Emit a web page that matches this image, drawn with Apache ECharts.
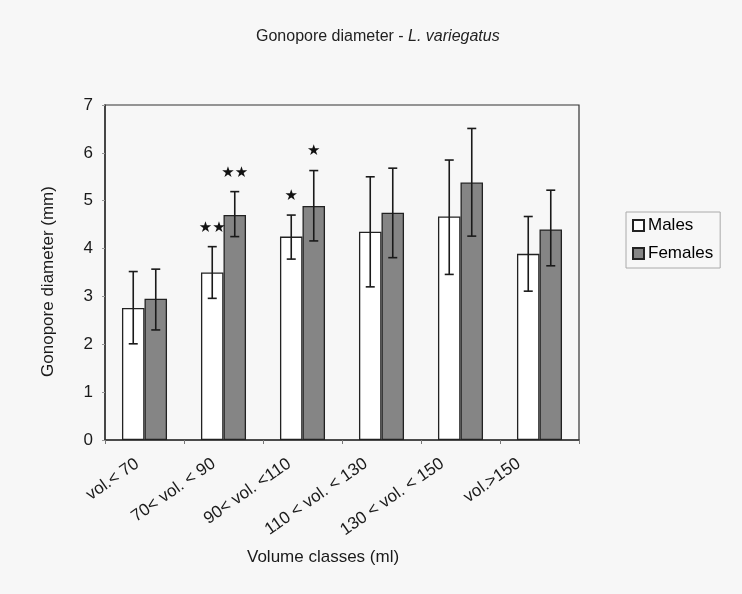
<!DOCTYPE html>
<html>
<head>
<meta charset="utf-8">
<script src="https://cdn.jsdelivr.net/npm/echarts@6/dist/echarts.min.js"></script>
<style>
html,body{margin:0;padding:0;background:#f7f7f7;}
#chart{width:742px;height:594px;}
</style>
</head>
<body>
<div id="chart"></div>
<script>
var categories = ['vol.< 70', '70< vol. < 90', '90< vol. <110', '110 < vol. < 130', '130 < vol. < 150', 'vol.>150'];
var males = [2.76, 3.50, 4.25, 4.35, 4.67, 3.89];
var malesLow = [2.01, 2.96, 3.78, 3.20, 3.46, 3.11];
var malesHigh = [3.52, 4.04, 4.70, 5.50, 5.85, 4.67];
var females = [2.95, 4.70, 4.89, 4.75, 5.38, 4.40];
var femalesLow = [2.30, 4.25, 4.16, 3.81, 4.26, 3.64];
var femalesHigh = [3.57, 5.19, 5.63, 5.68, 6.51, 5.22];
var maleSig = ['', '★★', '★', '', '', ''];
var femaleSig = ['', '★★', '★', '', '', ''];
var yTicks = [0, 1, 2, 3, 4, 5, 6, 7];

var FONT = '"Liberation Sans", Arial, sans-serif';
var BAR_FRAC = 0.285;

// horizontal drift of the rotated category labels (px, leftwards)
var labelShift = [7, 10, 13, 15.5, 18, 21];
var rich = {};
labelShift.forEach(function (d, i) {
  var c = Math.cos(35 * Math.PI / 180), s = Math.sin(35 * Math.PI / 180);
  rich['p' + i] = {
    fontFamily: FONT, fontSize: 17, color: '#1a1a1a',
    padding: [0, Math.round(d * c), Math.round(2 * d * s), 0]
  };
});

function errData(low, high, sig) {
  return categories.map(function (c, i) { return [i, low[i], high[i], sig[i]]; });
}

function errorRender(side) {
  return function (params, api) {
    var idx = api.value(0);
    var band = api.size([1, 0])[0];
    var off = side * band * BAR_FRAC / 2;
    var lo = api.coord([idx, api.value(1)]);
    var hi = api.coord([idx, api.value(2)]);
    var x = lo[0] + off;
    var cap = 4.5;
    var style = { stroke: '#1a1a1a', lineWidth: 1.6 };
    var children = [
      { type: 'line', shape: { x1: x, y1: hi[1], x2: x, y2: lo[1] }, style: style },
      { type: 'line', shape: { x1: x - cap, y1: hi[1], x2: x + cap, y2: hi[1] }, style: style },
      { type: 'line', shape: { x1: x - cap, y1: lo[1], x2: x + cap, y2: lo[1] }, style: style }
    ];
    var s = (side < 0 ? maleSig : femaleSig)[params.dataIndex];
    if (s) {
      children.push({
        type: 'text',
        style: {
          text: s, x: x, y: hi[1] - 19, align: 'center', verticalAlign: 'middle',
          font: '15px "DejaVu Sans", sans-serif', fill: '#111'
        }
      });
    }
    return { type: 'group', children: children };
  };
}

var chart = echarts.init(document.getElementById('chart'));
chart.setOption({
  backgroundColor: '#f7f7f7',
  animation: false,
  title: {
    text: '{a|Gonopore diameter - }{b|L. variegatus}',
    left: 251, top: 24,
    textStyle: {
      fontWeight: 'normal',
      rich: {
        a: { fontFamily: FONT, fontSize: 16, color: '#222', fontWeight: 'normal' },
        b: { fontFamily: FONT, fontSize: 16, color: '#222', fontStyle: 'italic', fontWeight: 'normal' }
      }
    }
  },
  legend: {
    orient: 'vertical',
    left: 626, top: 212,
    data: ['Males', 'Females'],
    itemWidth: 11, itemHeight: 11, itemGap: 11,
    icon: 'rect',
    padding: [5, 7, 6, 6],
    borderColor: '#aaa', borderWidth: 1,
    textStyle: { fontFamily: FONT, fontSize: 17, color: '#000', padding: [0, 0, 0, -1] }
  },
  grid: {
    left: 105, right: 163, top: 105, bottom: 154,
    show: true, borderColor: '#333', borderWidth: 1.2, backgroundColor: 'transparent'
  },
  xAxis: {
    type: 'category',
    data: categories,
    axisLine: { lineStyle: { color: '#333', width: 1.5 } },
    axisTick: { show: true, length: 4, lineStyle: { color: '#777' } },
    axisLabel: {
      rotate: 35, margin: 22, fontFamily: FONT, fontSize: 17, color: '#1a1a1a', interval: 0,
      formatter: function (v, i) { return '{p' + i + '|' + v + '}'; },
      rich: rich
    },
    splitLine: { show: false }
  },
  yAxis: {
    type: 'value',
    min: 0, max: 7, interval: 1,
    name: 'Gonopore diameter (mm)',
    nameLocation: 'middle',
    nameGap: 48,
    nameTextStyle: { fontFamily: FONT, fontSize: 17, color: '#1a1a1a', padding: [0, 18, 0, 0] },
    axisLine: { show: true, lineStyle: { color: '#333', width: 1.5 } },
    axisTick: { show: true, length: 3, lineStyle: { color: '#999' } },
    axisLabel: {
      margin: 12, fontFamily: FONT, fontSize: 17, color: '#1a1a1a',
      formatter: function (v) { return yTicks.indexOf(v) >= 0 ? String(v) : ''; }
    },
    splitLine: { show: false }
  },
  graphic: [{
    type: 'text', left: 247, top: 549,
    style: { text: 'Volume classes (ml)', font: '17px ' + FONT, fill: '#1a1a1a' }
  }],
  series: [
    {
      name: 'Males', type: 'bar', data: males,
      barWidth: (BAR_FRAC * 100) + '%', barGap: '0%',
      itemStyle: { color: '#ffffff', borderColor: '#222', borderWidth: 1.3 }
    },
    {
      name: 'Females', type: 'bar', data: females,
      barWidth: (BAR_FRAC * 100) + '%', barGap: '0%',
      itemStyle: { color: '#858585', borderColor: '#222', borderWidth: 1.3 }
    },
    {
      type: 'custom', name: 'errM', renderItem: errorRender(-1),
      data: errData(malesLow, malesHigh, maleSig), z: 5, silent: true
    },
    {
      type: 'custom', name: 'errF', renderItem: errorRender(1),
      data: errData(femalesLow, femalesHigh, femaleSig), z: 5, silent: true
    }
  ]
});
</script>
</body>
</html>
